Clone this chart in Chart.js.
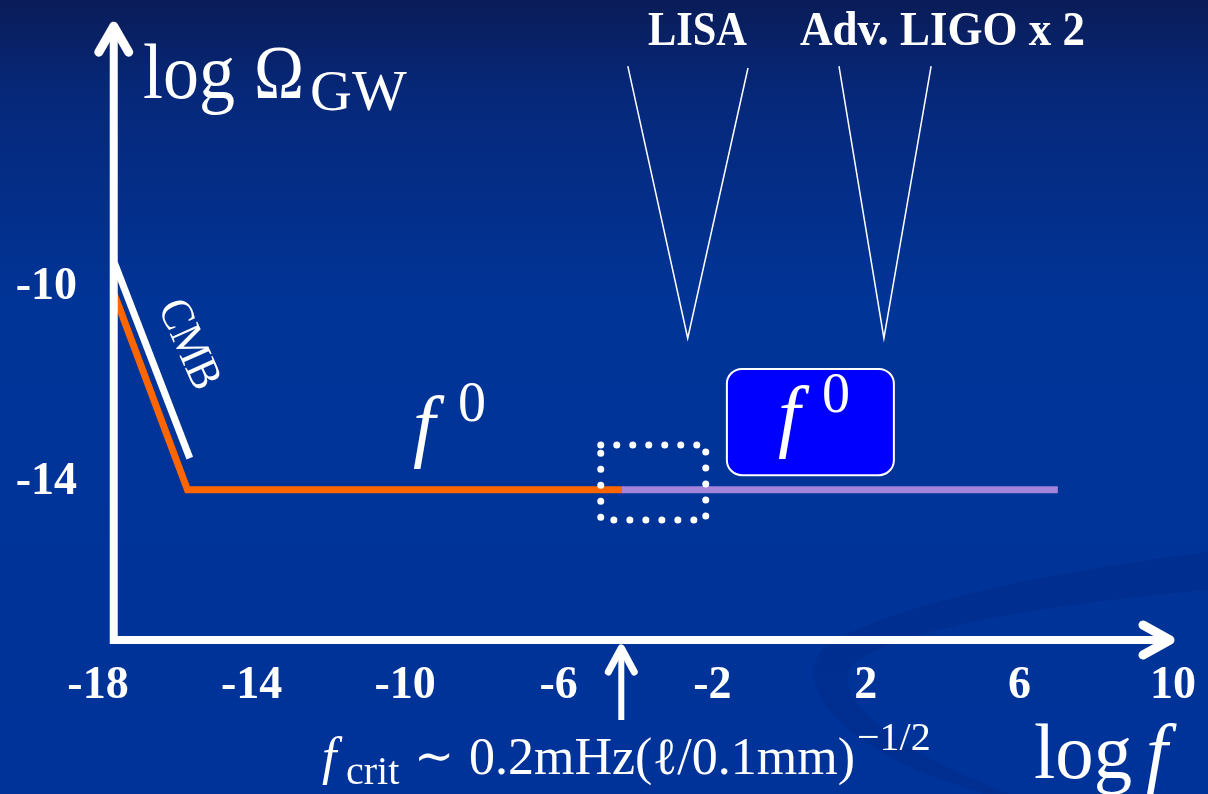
<!DOCTYPE html>
<html><head><meta charset="utf-8">
<script src="https://cdn.jsdelivr.net/npm/chart.js@4.4.1/dist/chart.umd.min.js"></script>
<style>html,body{margin:0;padding:0;background:#003399;overflow:hidden}canvas{display:block}</style>
</head><body>
<canvas id="c" width="1208" height="794"></canvas>
<script>
// ---- data (log f, log Omega_GW) ----
const xTicks = [-18, -14, -10, -6, -2, 2, 6, 10];
const yTicks = [-10, -14];
const lowFreqX = [-17.57, -15.67, -4.37];
const lowFreqY = [-10.16, -14.16, -14.16];
const highFreqX = [-4.37, 7.0];
const highFreqY = [-14.16, -14.16];
const cmbX = [-17.57, -15.61];
const cmbY = [-9.51, -13.51];
const lisaX = [-4.20, -2.64, -1.07];
const lisaY = [-5.47, -11.05, -5.51];
const ligoX = [1.30, 2.47, 3.70];
const ligoY = [-5.47, -11.05, -5.47];
const zoomBoxX = [-4.905, -2.17, -2.17, -4.905, -4.905];
const zoomBoxY = [-13.24, -13.24, -14.78, -14.78, -13.24];
const f0BoxX = [-1.62, 2.73];
const f0BoxY = [-11.68, -13.86];
const fCritX = -4.37;
const axisAtX = -17.59, axisAtY = -17.24;
const yArrowTip = -4.61, xArrowTip = 10;
const xMin = -18, xMax = 10, yMin = -17.65, yMax = -4.73;

const pts = (xs, ys) => xs.map((x, i) => ({x: x, y: ys[i]}));

const bgPlugin = {
  id: 'bg',
  beforeDraw(chart) {
    const ctx = chart.ctx, W = chart.width, H = chart.height;
    ctx.save();
    const g = ctx.createLinearGradient(0, 0, 0, H);
    g.addColorStop(0, '#0a1c58');
    g.addColorStop(0.12, '#06287a');
    g.addColorStop(0.38, '#013497');
    g.addColorStop(1, '#003399');
    ctx.fillStyle = g;
    ctx.fillRect(0, 0, W, H);
    // faint swirl
    ctx.beginPath();
    ctx.moveTo(1208, 552);
    ctx.bezierCurveTo(1040, 572, 870, 610, 822, 650);
    ctx.bezierCurveTo(790, 690, 850, 755, 985, 794);
    ctx.lineTo(1010, 794);
    ctx.bezierCurveTo(895, 750, 835, 700, 850, 668);
    ctx.bezierCurveTo(880, 632, 1040, 605, 1208, 590);
    ctx.closePath();
    ctx.fillStyle = 'rgba(0,20,90,0.12)';
    ctx.fill();
    ctx.restore();
  }
};

const overlayPlugin = {
  id: 'overlay',
  afterDatasetsDraw(chart) {
    const ctx = chart.ctx, xs = chart.scales.x, ys = chart.scales.y;
    ctx.save();
    // f^0 box
    const bx0 = xs.getPixelForValue(f0BoxX[0]), bx1 = xs.getPixelForValue(f0BoxX[1]);
    const by0 = ys.getPixelForValue(f0BoxY[0]), by1 = ys.getPixelForValue(f0BoxY[1]);
    ctx.beginPath();
    ctx.roundRect(bx0, by0, bx1 - bx0, by1 - by0, 15);
    ctx.fillStyle = '#0000ff';
    ctx.fill();
    ctx.lineWidth = 2;
    ctx.strokeStyle = '#ffffff';
    ctx.stroke();

    // axes with arrows
    const ax = xs.getPixelForValue(axisAtX), ay = ys.getPixelForValue(axisAtY);
    const tipY = ys.getPixelForValue(yArrowTip), tipX = xs.getPixelForValue(xArrowTip);
    ctx.strokeStyle = '#ffffff';
    ctx.lineCap = 'butt';
    ctx.lineWidth = 8;
    ctx.beginPath();
    ctx.moveTo(ax, ay + 4); ctx.lineTo(ax, tipY + 6);
    ctx.moveTo(ax - 4, ay); ctx.lineTo(tipX - 6, ay);
    ctx.stroke();
    ctx.lineCap = 'round'; ctx.lineJoin = 'round';
    ctx.lineWidth = 9;
    ctx.beginPath();
    ctx.moveTo(ax - 15, tipY + 28); ctx.lineTo(ax, tipY + 2); ctx.lineTo(ax + 15, tipY + 28);
    ctx.moveTo(tipX - 30, ay - 15); ctx.lineTo(tipX - 3, ay); ctx.lineTo(tipX - 30, ay + 15);
    ctx.stroke();

    // f_crit arrow
    const fx = xs.getPixelForValue(fCritX);
    ctx.lineCap = 'butt';
    ctx.lineWidth = 6;
    ctx.beginPath();
    ctx.moveTo(fx, 720); ctx.lineTo(fx, ay + 10);
    ctx.stroke();
    ctx.lineCap = 'round';
    ctx.lineWidth = 7;
    ctx.beginPath();
    ctx.moveTo(fx - 13, ay + 32); ctx.lineTo(fx, ay + 8); ctx.lineTo(fx + 13, ay + 32);
    ctx.stroke();

    // texts
    ctx.fillStyle = '#ffffff';
    ctx.textBaseline = 'alphabetic';
    ctx.textAlign = 'left';
    const T = (s, x, y, font, mw) => { ctx.font = font; if (mw) ctx.fillText(s, x, y, mw); else ctx.fillText(s, x, y); };
    const SERIF = '"Liberation Serif", "DejaVu Serif", serif';
    // y axis title
    T('log', 143, 98, '78px ' + SERIF, 92);
    T('\u03A9', 254, 98, '76px ' + SERIF, 50);
    T('GW', 310, 110, '58px ' + SERIF, 104);
    // x axis title
    T('log', 1034, 778, '78px ' + SERIF, 98);
    T('f', 1146, 778, 'italic 78px ' + SERIF);
    // detector labels
    T('LISA', 648, 45, 'bold 48px ' + SERIF, 99);
    T('Adv. LIGO x 2', 800, 45, 'bold 48px ' + SERIF, 285);
    // f^0 labels
    T('f', 413, 452, 'italic 80px ' + SERIF);
    T('0', 458, 421, '56px ' + SERIF);
    T('f', 778, 442, 'italic 80px ' + SERIF);
    T('0', 822, 412, '56px ' + SERIF);
    // f_crit formula
    T('f', 322, 774, 'italic 52px ' + SERIF);
    T('crit', 346, 784, '40px ' + SERIF, 58);
    T('\u223C', 414, 772, '48px ' + SERIF, 42);
    T('0.2mHz(\u2113/0.1mm)', 469, 774, '52px ' + SERIF, 386);
    T('\u22121/2', 857, 750, '40px ' + SERIF, 90);
    // CMB rotated label
    ctx.save();
    ctx.translate(188, 345);
    ctx.rotate(66 * Math.PI / 180);
    ctx.textAlign = 'center';
    ctx.textBaseline = 'middle';
    ctx.font = '46px ' + SERIF;
    ctx.fillText('CMB', 0, 0, 94);
    ctx.restore();
    ctx.restore();
  }
};

const tickFont = {family: 'Liberation Serif', size: 46, weight: 'bold'};

new Chart(document.getElementById('c'), {
  type: 'scatter',
  data: {
    datasets: [
      {data: pts(zoomBoxX, zoomBoxY), showLine: true, borderColor: '#ffffff', borderWidth: 7, borderDash: [0, 16], borderCapStyle: 'round', pointRadius: 0},
      {data: pts(highFreqX, highFreqY), showLine: true, borderColor: '#a585db', borderWidth: 7, pointRadius: 0},
      {data: pts(lowFreqX, lowFreqY), showLine: true, borderColor: '#ff6600', borderWidth: 7, borderJoinStyle: 'miter', pointRadius: 0},
      {data: pts(cmbX, cmbY), showLine: true, borderColor: '#ffffff', borderWidth: 7, pointRadius: 0},
      {data: pts(lisaX, lisaY), showLine: true, borderColor: '#ffffff', borderWidth: 1.5, pointRadius: 0},
      {data: pts(ligoX, ligoY), showLine: true, borderColor: '#ffffff', borderWidth: 1.5, pointRadius: 0}
    ]
  },
  options: {
    responsive: false,
    animation: false,
    devicePixelRatio: 1,
    layout: {padding: {top: 30, right: 35, left: 0, bottom: 0}},
    plugins: {legend: {display: false}, tooltip: {enabled: false}},
    scales: {
      x: {
        type: 'linear', min: xMin, max: xMax,
        afterBuildTicks: s => { s.ticks = xTicks.map(v => ({value: v})); },
        afterFit: s => { s.height = 134; s.paddingLeft = 0; s.paddingRight = 0; },
        grid: {display: false}, border: {display: false},
        ticks: {color: '#ffffff', font: tickFont, padding: -9, maxRotation: 0, autoSkip: false}
      },
      y: {
        type: 'linear', min: yMin, max: yMax,
        afterBuildTicks: s => { s.ticks = yTicks.map(v => ({value: v})); },
        afterFit: s => { s.width = 98; s.paddingTop = 0; s.paddingBottom = 0; },
        grid: {display: false}, border: {display: false},
        ticks: {color: '#ffffff', font: tickFont, padding: 13, autoSkip: false}
      }
    }
  },
  plugins: [bgPlugin, overlayPlugin]
});
</script>
</body></html>
